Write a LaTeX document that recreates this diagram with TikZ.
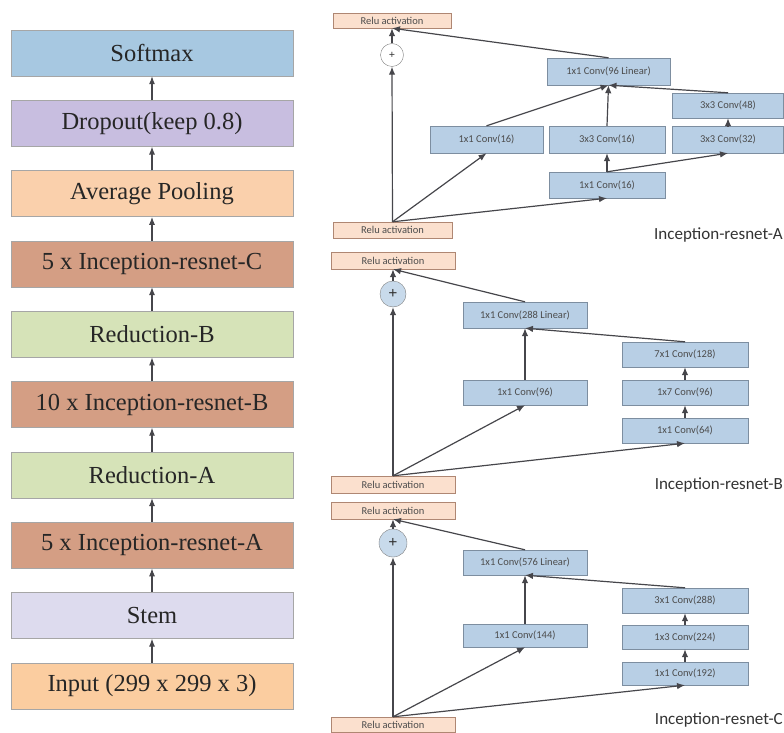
\documentclass[tikz,border=0pt]{standalone}
\usepackage{fontspec}
\setmainfont{Liberation Serif}
\newfontfamily\smallsans{Carlito}
\usepackage{xcolor}
\usepackage{tikz}
\usetikzlibrary{positioning,arrows.meta}
\definecolor{softmaxcolor}{RGB}{167, 200, 225}
\definecolor{dropoutcolor}{RGB}{200, 190, 224}
\definecolor{poolcolor}{RGB}{250, 208, 172}
\definecolor{blockcolor}{RGB}{212, 158, 132}
\definecolor{reductioncolor}{RGB}{214, 227, 184}
\definecolor{stemcolor}{RGB}{221, 219, 238}
\definecolor{inputcolor}{RGB}{251, 205, 160}
\definecolor{convcolor}{RGB}{184, 207, 229}
\definecolor{convborder}{RGB}{125, 142, 160}
\definecolor{relucolor}{RGB}{251, 224, 206}
\definecolor{reluborder}{RGB}{175, 135, 115}
\definecolor{addcolor}{RGB}{200, 218, 235}
\definecolor{linkcolor}{RGB}{70, 70, 75}
\tikzset{
    layer/.style={rectangle, draw=gray!70, minimum width=282pt, minimum height=46pt, inner sep=0pt, text=black!85, font=\fontsize{24.5}{26}\selectfont},
    softmax layer/.style={layer, fill=softmaxcolor},
    dropout layer/.style={layer, fill=dropoutcolor},
    pool layer/.style={layer, fill=poolcolor},
    block layer/.style={layer, fill=blockcolor},
    reduction layer/.style={layer, fill=reductioncolor},
    stem layer/.style={layer, fill=stemcolor},
    input layer/.style={layer, fill=inputcolor},
    conv/.style={rectangle, draw=convborder, fill=convcolor, minimum width=124pt, minimum height=26pt, inner sep=0pt, text=black!70, font=\smallsans\fontsize{10.5}{12}\selectfont},
    relu/.style={rectangle, draw=reluborder, fill=relucolor, minimum width=124pt, minimum height=16pt, inner sep=0pt, text=black!70, font=\smallsans\fontsize{10.5}{12}\selectfont},
    add/.style={circle, draw=gray, fill=addcolor, minimum size=26pt, inner sep=0pt, text=black!80, font=\fontsize{16}{16}\selectfont\bfseries},
    block name/.style={anchor=east, inner sep=0pt, text=black!80, font=\smallsans\fontsize{17}{18}\selectfont},
    flow arrow/.style={-{Latex[length=8pt,width=6.5pt]}, line width=1.2pt, linkcolor},
    stack arrow/.style={-{Latex[length=8pt,width=6pt]}, line width=1.1pt, linkcolor}
}

\begin{document}
\begin{tikzpicture}[x=1pt, y=-1pt]
\useasboundingbox (0,0) rectangle (784,733);
% main network
\node[softmax layer] (softmax) at (152,53) {Softmax};
\node[dropout layer] (dropout) at (152,123.3) {Dropout(keep 0.8)};
\node[pool layer] (avgpool) at (152,193.6) {Average Pooling};
\node[block layer] (irc) at (152,263.9) {5 x Inception-resnet-C};
\node[reduction layer] (redb) at (152,334.2) {Reduction-B};
\node[block layer] (irb) at (152,404.5) {10 x Inception-resnet-B};
\node[reduction layer] (reda) at (152,474.8) {Reduction-A};
\node[block layer] (ira) at (152,545.1) {5 x Inception-resnet-A};
\node[stem layer] (stem) at (152,615.4) {Stem};
\node[input layer] (input) at (152,685.7) {Input (299 x 299 x 3)};
\foreach \a/\b in {input/stem, stem/ira, ira/reda, reda/irb, irb/redb, redb/irc, irc/avgpool, avgpool/dropout, dropout/softmax}
    \draw[stack arrow] (\a) -- (\b);

% Inception-resnet-A
\node[relu, minimum width=118pt, minimum height=15pt] (aout) at (392,20.5) {Relu activation};
\node[add, fill=white, minimum size=23pt, font=\fontsize{11}{11}\selectfont\bfseries] (aadd) at (392,55) {+};
\node[conv, minimum width=123pt, minimum height=27pt] (alin) at (608.5,71.5) {1x1 Conv(96 Linear)};
\node[conv, minimum width=111pt, minimum height=25pt] (ac48) at (728,105.5) {3x3 Conv(48)};
\node[conv, minimum width=113pt, minimum height=27pt] (ab1) at (486.5,139.5) {1x1 Conv(16)};
\node[conv, minimum width=116pt, minimum height=27pt] (ab2) at (607,139.5) {3x3 Conv(16)};
\node[conv, minimum width=111pt, minimum height=27pt] (ac32) at (728,139.5) {3x3 Conv(32)};
\node[conv, minimum width=116pt] (ab2in) at (607,185) {1x1 Conv(16)};
\node[relu, minimum width=119pt] (ain) at (392.5,230) {Relu activation};
\node[block name] (alabel) at (783,235) {Inception-resnet-A};
\draw[flow arrow] (ain.north) -- (aadd.south);
\draw[flow arrow] (ain.north) -- (ab1.south);
\draw[flow arrow] (ain.north) -- (ab2in.south);
\draw[flow arrow] (ab2in.north) -- (ab2.south);
\draw[flow arrow] (ab2in.north) -- (ac32.south);
\draw[flow arrow] (ac32.north) -- (ac48.south);
\draw[flow arrow] (ab1.north) -- (alin.south);
\draw[flow arrow] (ab2.north) -- (alin.south);
\draw[flow arrow] (ac48.north) -- (alin.south);
\draw[flow arrow] (alin.north) -- (aout.south);
\draw[flow arrow] (aadd.north) -- (aout.south);

% Inception-resnet-B
\node[relu, minimum height=17pt] (bout) at (393,260.5) {Relu activation};
\node[add] (badd) at (393,294) {+};
\node[conv] (blin) at (525,315) {1x1 Conv(288 Linear)};
\node[conv, minimum width=126pt, minimum height=25pt] (bc128) at (685,354.5) {7x1 Conv(128)};
\node[conv, minimum width=126pt, minimum height=25pt] (bc96r) at (685,392.5) {1x7 Conv(96)};
\node[conv, minimum width=126pt, minimum height=25pt] (bc64) at (685,430.5) {1x1 Conv(64)};
\node[conv, minimum height=25pt] (bc96) at (525,392.5) {1x1 Conv(96)};
\node[relu, minimum height=17pt] (bin) at (393,484.5) {Relu activation};
\node[block name] (blabel) at (783,485) {Inception-resnet-B};
\draw[flow arrow] (bin.north) -- (badd.south);
\draw[flow arrow] (bin.north) -- (bc96.south);
\draw[flow arrow] (bin.north) -- (bc64.south);
\draw[flow arrow] (bc64) -- (bc96r);
\draw[flow arrow] (bc96r) -- (bc128);
\draw[flow arrow] (bc96.north) -- (blin.south);
\draw[flow arrow] (bc128.north) -- (blin.south);
\draw[flow arrow] (blin.north) -- (bout.south);
\draw[flow arrow] (badd.north) -- (bout.south);

% Inception-resnet-C
\node[relu, minimum height=17pt] (cout) at (393,510.5) {Relu activation};
\node[add, minimum size=28pt] (cadd) at (393,543) {+};
\node[conv, minimum height=25pt] (clin) at (525,562.5) {1x1 Conv(576 Linear)};
\node[conv, minimum width=126pt, minimum height=25pt] (cc288) at (685,600.5) {3x1 Conv(288)};
\node[conv, minimum width=126pt, minimum height=24pt] (cc224) at (685,637) {1x3 Conv(224)};
\node[conv, minimum width=126pt, minimum height=23pt] (cc192) at (685,673.5) {1x1 Conv(192)};
\node[conv, minimum height=23pt] (cc144) at (525,635.5) {1x1 Conv(144)};
\node[relu, minimum height=15pt] (cin) at (393,724.5) {Relu activation};
\node[block name] (clabel) at (783,720) {Inception-resnet-C};
\draw[flow arrow] (cin.north) -- (cadd.south);
\draw[flow arrow] (cin.north) -- (cc144.south);
\draw[flow arrow] (cin.north) -- (cc192.south);
\draw[flow arrow] (cc192) -- (cc224);
\draw[flow arrow] (cc224) -- (cc288);
\draw[flow arrow] (cc144.north) -- (clin.south);
\draw[flow arrow] (cc288.north) -- (clin.south);
\draw[flow arrow] (clin.north) -- (cout.south);
\draw[flow arrow] (cadd.north) -- (cout.south);
\end{tikzpicture}
\end{document}
